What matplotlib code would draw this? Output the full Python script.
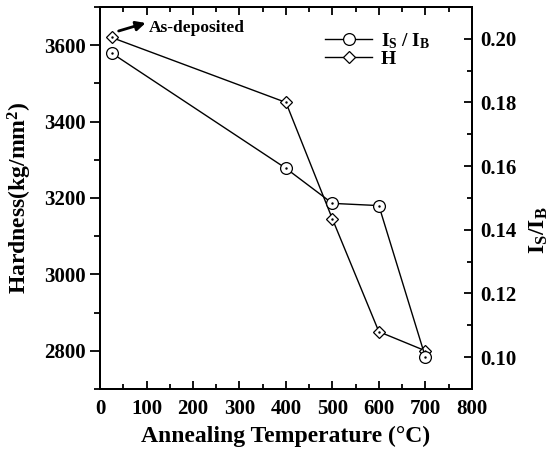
import matplotlib
matplotlib.use("Agg")
import matplotlib.pyplot as plt
from matplotlib.ticker import MultipleLocator

plt.rcParams['font.family'] = ['Liberation Serif', 'DejaVu Serif']
plt.rcParams['font.weight'] = 'bold'
plt.rcParams['mathtext.fontset'] = 'custom'
plt.rcParams['mathtext.rm'] = 'Liberation Serif:bold'
plt.rcParams['mathtext.it'] = 'Liberation Serif:bold'
plt.rcParams['mathtext.bf'] = 'Liberation Serif:bold'

# Annealing temperature (°C); first point is the as-deposited film
temperature = [25, 400, 500, 600, 700]
hardness = [3620, 3450, 3145, 2850, 2800]          # kg/mm^2
intensity_ratio = [0.1955, 0.1593, 0.1483, 0.1476, 0.1001]  # I_S / I_B

fig = plt.figure(figsize=(5.59, 4.5), dpi=100)
ax = fig.add_axes([0.179, 0.1356, 0.665, 0.849])
ax2 = ax.twinx()

lw = 1.0
line_h, = ax.plot(temperature, hardness, color='black', lw=lw, marker='D',
                  ms=6.5, mfc='white', mec='black', mew=0.9, zorder=3)
ax.plot(temperature, hardness, ls='none', marker='.', ms=1.5, color='black', zorder=4)
line_i, = ax2.plot(temperature, intensity_ratio, color='black', lw=lw, marker='o',
                   ms=8.5, mfc='white', mec='black', mew=0.9, zorder=3)
ax2.plot(temperature, intensity_ratio, ls='none', marker='.', ms=1.5, color='black', zorder=4)

ax.set_xlim(0, 800)
ax.set_ylim(2700, 3700)
ax2.set_ylim(0.09, 0.21)

ax.xaxis.set_major_locator(MultipleLocator(100))
ax.xaxis.set_minor_locator(MultipleLocator(50))
ax.yaxis.set_major_locator(MultipleLocator(200))
ax.yaxis.set_minor_locator(MultipleLocator(100))
ax2.yaxis.set_major_locator(MultipleLocator(0.02))
ax2.yaxis.set_minor_locator(MultipleLocator(0.01))
ax2.yaxis.set_major_formatter(matplotlib.ticker.FormatStrFormatter('%.2f'))

for a in (ax, ax2):
    for s in a.spines.values():
        s.set_linewidth(1.4)

ax.tick_params(axis='x', which='both', direction='in', top=True, labelsize=15, width=1.3, pad=7)
ax.tick_params(axis='x', which='major', length=6)
ax.tick_params(axis='x', which='minor', length=3.5)
ax.tick_params(axis='y', which='both', direction='out', labelsize=15, width=1.3)
ax.tick_params(axis='y', which='major', length=7)
ax.tick_params(axis='y', which='minor', length=4)
ax2.tick_params(axis='y', which='both', direction='in', labelsize=15, width=1.3, pad=6)
ax2.tick_params(axis='y', which='major', length=6)
ax2.tick_params(axis='y', which='minor', length=3.5)

ax.set_xlabel('Annealing Temperature (°C)', fontsize=17, fontweight='bold', labelpad=5)
ax.set_ylabel('Hardness(kg/mm$^2$)', fontsize=17, fontweight='bold', labelpad=7)
ax2.set_ylabel('I$_\\mathregular{S}$/I$_\\mathregular{B}$', fontsize=17, fontweight='bold')
ax2.yaxis.set_label_coords(1.15, 0.415)

ax.annotate('', xy=(98, 3658), xytext=(40, 3637),
            arrowprops=dict(arrowstyle='-|>', color='black', lw=2.0,
                            mutation_scale=14, shrinkA=0, shrinkB=0))
ax.text(104, 3646, 'As-deposited', fontsize=12.5, fontweight='bold',
        va='center', ha='left')

leg = ax.legend([line_i, line_h],
                ['I$_\\mathregular{S}$ / I$_\\mathregular{B}$', 'H'],
                loc='upper left', bbox_to_anchor=(0.575, 0.968), frameon=False,
                fontsize=14, handlelength=2.4, handletextpad=0.45,
                labelspacing=0.0, borderaxespad=0.2)

fig.savefig('out.png', dpi=100)
